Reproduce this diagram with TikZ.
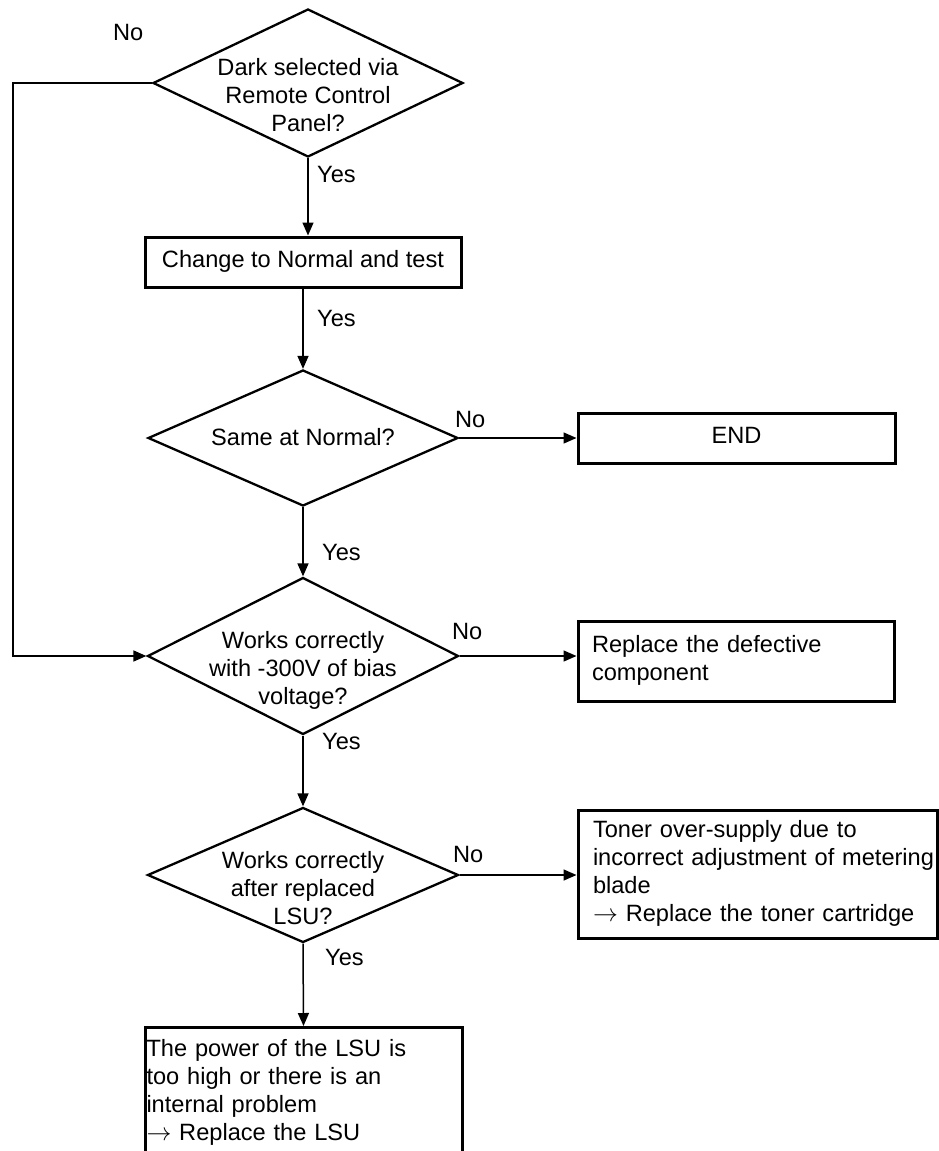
\documentclass[tikz,border=0pt]{standalone}
\usepackage{fontspec}
\setmainfont{Liberation Sans}
\usetikzlibrary{shapes.geometric,arrows.meta}
\begin{document}
\begin{tikzpicture}[x=1pt,y=-1pt,
  every node/.style={font=\fontsize{23.6}{28}\selectfont, inner sep=0pt},
  dia/.style={diamond, draw, line width=2.3pt},
  box/.style={draw, rectangle, line width=3pt},
  conn/.style={line width=1.5pt, -{Triangle[length=13pt,width=11pt]}},
  lbl/.style={anchor=base west},
  dtxt/.style={align=center}]
\path[use as bounding box, fill=white] (0,0) rectangle (938,1151);

% decisions and boxes
\node[dia, minimum width=310pt, minimum height=148pt] (d1) at (308,83) {};
\node[dtxt] (d1t) at (308,97.4) {\strut Dark selected via\\Remote Control\\Panel?\strut};

\node[box, minimum width=316pt, minimum height=50pt] (b1) at (303,262) {\strut Change to Normal and test};

\node[dia, minimum width=310pt, minimum height=136pt] (d2) at (303,438) {};
\node (d2t) at (303,439.4) {\strut Same at Normal?};

\node[box, minimum width=317pt, minimum height=50pt] (endb) at (736.5,438) {\strut END};

\node[dia, minimum width=311pt, minimum height=157pt] (d3) at (303,656) {};
\node[dtxt] (d3t) at (303,670.4) {\strut Works correctly\\with -300V of bias\\voltage?\strut};

\node[box, minimum width=316pt, minimum height=80pt, text width=288pt, align=left] (rep) at (736,661)
  {\strut Replace the defective\\component\strut};

\node[dia, minimum width=311pt, minimum height=135pt] (d4) at (303,875) {};
\node[dtxt] (d4t) at (303,890.4) {\strut Works correctly\\after replaced\\LSU?\strut};

\node[box, minimum width=359pt, minimum height=128pt, text width=329pt, align=left] (ton) at (757.5,874)
  {\strut Toner over-supply due to\\\mbox{incorrect adjustment of metering}\\blade\\$\rightarrow$ Replace the toner cartridge\strut};

\node[box, anchor=north, minimum width=317pt, text width=314pt, align=left, inner ysep=9.4pt] (b5) at (303.5,1026)
  {\strut The power of the LSU is\\too high or there is an\\internal problem\\$\rightarrow$ Replace the LSU\strut};

% connectors
\coordinate (lc) at (13,83);
\draw[conn] (d1.south) -- (d1.south |- b1.north);
\draw[conn] (b1.south) -- (d2.north);
\draw[conn] (d2.east) -- (endb.west);
\draw[conn] (d2.south) -- (d3.north);
\draw[conn] (d1.west) -- (lc) |- (d3.west);
\draw[conn] (d3.east) -- (d3.east -| rep.west);
\draw[conn] (d3.south) -- (d4.north);
\draw[conn] (d4.east) -- (d4.east -| ton.west);
\draw[conn] (d4.south) -- (b5.north);

% labels
\node[lbl] (n1) at (113,40) {No};
\node[lbl] (y1) at (317,182) {Yes};
\node[lbl] (y2) at (317,326) {Yes};
\node[lbl] (n2) at (455,427) {No};
\node[lbl] (y3) at (322,560) {Yes};
\node[lbl] (n3) at (452,639) {No};
\node[lbl] (y4) at (322,749) {Yes};
\node[lbl] (n4) at (453,862) {No};
\node[lbl] (y5) at (325,965) {Yes};
\end{tikzpicture}
\end{document}
